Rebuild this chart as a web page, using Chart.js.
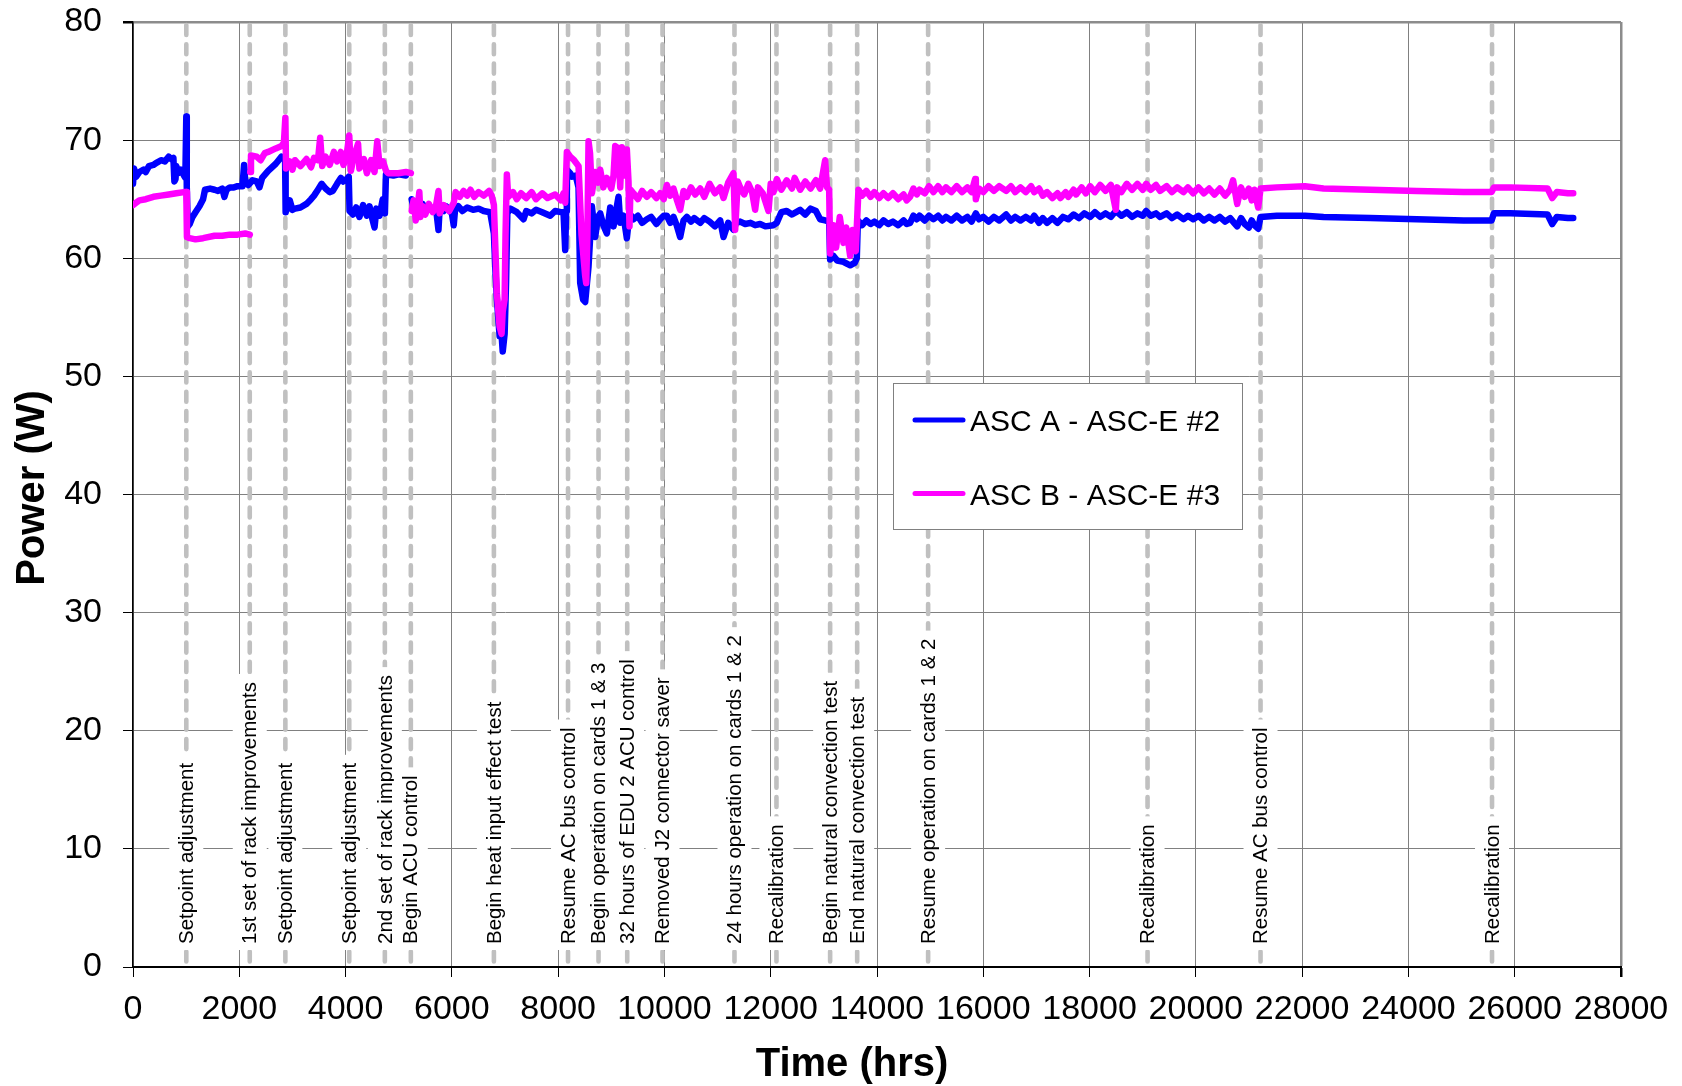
<!DOCTYPE html>
<html>
<head>
<meta charset="utf-8">
<script src="https://cdn.jsdelivr.net/npm/chart.js@4.4.1/dist/chart.umd.min.js"></script>
<style>
  html, body { margin: 0; padding: 0; background: #fff; }
  #wrap { position: relative; width: 1682px; height: 1086px; }
</style>
</head>
<body>
<div id="wrap"><canvas id="powerChart"></canvas></div>
<script>
const seriesLabels = ["ASC A - ASC-E #2", "ASC B - ASC-E #3"];

const hoursA = [
  0, 20, 60, 120, 200, 240, 300, 383, 450, 527, 600, 671, 720, 760, 779, 800, 815, 852, 900, 959,
  985, 1003, 1012, 1031, 1067, 1120, 1176, 1250, 1319, 1355, 1450, 1535, 1600, 1680, 1720, 1760, 1823, 1900, 1968, 2060,
  2090, 2111, 2169, 2250, 2327, 2380, 2430, 2543, 2687, 2795, 2831, 2862, 2872, 2903, 2950, 3000, 3048, 3150, 3264, 3350,
  3407, 3480, 3550, 3623, 3700, 3760, 3840, 3911, 3960, 4019, 4060, 4075, 4140, 4200, 4260, 4330, 4400, 4450, 4500, 4545,
  4580, 4640, 4700, 4740, 4760, 4900, 5000, 5136, 5190,
  5244, 5280, 5320, 5388, 5450, 5500, 5567, 5640, 5700, 5748, 5770, 5850, 5891, 5960, 6000, 6035, 6060, 6120, 6200, 6287,
  6400, 6504, 6600, 6720, 6791, 6820, 6848, 6899, 6935, 6957, 6993, 7020, 7044, 7100, 7222, 7349, 7400, 7500, 7584, 7700,
  7851, 7943, 8050, 8101, 8133, 8150, 8164, 8227, 8258, 8330, 8384, 8415, 8470, 8509, 8572, 8635, 8697, 8750, 8791, 8850,
  8917, 8980, 9042, 9090, 9136, 9168, 9230, 9293, 9343, 9418, 9500, 9580, 9669, 9750, 9850, 9920, 9986, 10046, 10110, 10171,
  10230, 10296, 10360, 10422, 10500, 10560, 10673, 10750, 10850, 10950, 11049, 11112, 11200, 11300, 11350, 11425, 11520, 11620, 11707, 11800,
  11900, 12052, 12115, 12200, 12300, 12400, 12554, 12650, 12750, 12850, 12930, 13024, 13100, 13118, 13181, 13250, 13369, 13450, 13495, 13580,
  13620, 13640, 13720, 13800, 13880, 13950, 14040, 14122, 14210, 14300, 14400, 14500, 14560, 14623, 14686, 14750, 14800, 14900, 14980, 15062,
  15150, 15230, 15300, 15400, 15500, 15600, 15700, 15780, 15859, 15920, 16000, 16100, 16200, 16300, 16430, 16520, 16600, 16700, 16800, 16900,
  16957, 17050, 17120, 17200, 17300, 17396, 17500, 17600, 17700, 17800, 17900, 18011, 18100, 18200, 18300, 18400, 18494, 18600, 18700, 18800,
  18900, 19000, 19065, 19150, 19250, 19328, 19450, 19550, 19650, 19768, 19850, 19950, 20050, 20150, 20250, 20350, 20450, 20550, 20646, 20720,
  20778, 20850, 20920, 20997, 21050, 21100, 21173,
  21217, 21524, 22051, 22402, 23281, 24159, 25037, 25564, 25608, 25916, 26618, 26706, 26794, 27000, 27101
];
const powerA = [
  66.3, 67.6, 66.9, 67.3, 67.5, 67.3, 67.8, 67.9, 68.1, 68.3, 68.2, 68.6, 68.4, 68.5, 66.5, 66.7, 67.8, 67.2, 67.5, 67.0,
  66.8, 72.0, 66.0, 62.7, 62.9, 63.5, 63.9, 64.4, 65.0, 65.8, 65.9, 65.8, 65.7, 65.9, 65.2, 65.8, 66.0, 66.0, 66.1, 66.1,
  67.9, 66.6, 66.2, 66.6, 66.5, 66.0, 66.8, 67.4, 68.0, 68.6, 68.5, 68.3, 63.9, 64.2, 64.9, 64.1, 64.2, 64.3, 64.6, 65.0,
  65.3, 65.8, 66.3, 65.9, 65.6, 65.7, 66.3, 66.8, 66.5, 66.7, 66.9, 64.0, 63.7, 64.3, 63.5, 64.5, 63.6, 64.4, 63.4, 62.6,
  64.2, 63.6, 65.0, 63.8, 67.1, 67.0, 67.1, 67.0, null,
  65.0, 64.2, 64.8, 64.0, 64.6, 63.9, 64.5, 64.0, 64.3, 62.4, 64.2, 64.0, 64.4, 64.0, 63.8, 62.8, 64.1, 64.4, 64.0, 64.3,
  64.1, 64.2, 64.0, 63.9, 62.1, 59.0, 56.5, 53.4, 53.6, 52.1, 53.6, 58.0, 63.8, 64.2, 63.9, 63.3, 64.0, 63.8, 64.1, 63.9,
  63.6, 64.0, 63.9, 63.9, 60.7, 64.0, 67.5, 67.2, 66.9, 67.0, 66.0, 57.9, 56.5, 56.3, 59.3, 64.4, 61.8, 63.5, 63.8, 62.8,
  62.1, 64.3, 62.7, 64.0, 65.2, 63.0, 63.6, 61.7, 63.8, 63.3, 63.6, 63.0, 63.3, 63.5, 62.9, 63.3, 63.6, 63.6, 63.0, 63.5,
  62.8, 61.8, 63.2, 63.5, 63.1, 63.4, 63.0, 63.4, 63.1, 62.7, 63.2, 61.8, 63.0, 62.4, 63.0, 63.1, 62.9, 63.0, 62.8, 62.9,
  62.7, 62.8, 63.0, 63.9, 64.0, 63.7, 64.1, 63.7, 64.2, 64.0, 63.3, 63.2, 63.1, 59.9, 60.2, 59.8, 59.7, 59.5, 59.4, 59.6,
  60.0, 63.2, 62.8, 63.2, 62.9, 63.1, 62.8, 63.2, 62.9, 63.1, 62.8, 63.2, 62.9, 63.0, 63.6, 63.3, 63.6, 63.2, 63.6, 63.3,
  63.6, 63.2, 63.5, 63.2, 63.6, 63.2, 63.5, 63.1, 63.8, 63.3, 63.5, 63.1, 63.5, 63.2, 63.7, 63.2, 63.5, 63.2, 63.5, 63.2,
  63.6, 63.0, 63.4, 63.0, 63.4, 63.0, 63.5, 63.3, 63.7, 63.4, 63.8, 63.5, 63.9, 63.5, 63.8, 63.5, 64.0, 63.6, 63.9, 63.5,
  63.8, 63.6, 64.0, 63.6, 63.8, 63.5, 63.8, 63.4, 63.7, 63.3, 63.6, 63.3, 63.6, 63.2, 63.5, 63.2, 63.5, 63.1, 63.4, 63.0,
  62.7, 63.4, 62.9, 62.6, 63.2, 62.8, 62.5,
  63.5, 63.6, 63.6, 63.5, 63.4, 63.3, 63.2, 63.2, 63.8, 63.8, 63.7, 62.9, 63.5, 63.4, 63.4
];

const hoursB = [
  0, 60, 120, 240, 383, 527, 671, 815, 959, 1003, 1015, 1067, 1176, 1319, 1535, 1680, 1823, 1968, 2111, 2198, 2201,
  2205, 2220, 2327, 2400, 2480, 2543, 2687, 2795, 2840, 2867, 2880, 2950, 3000, 3048, 3150, 3264, 3350, 3407, 3480, 3522,
  3560, 3623, 3700, 3780, 3840, 3911, 3960, 4019, 4069, 4100, 4150, 4235, 4260, 4344, 4400, 4480, 4545, 4596, 4640, 4704,
  4761, 4800, 4991, 5136, 5229, 5236,
  5244, 5280, 5320, 5360, 5388, 5410, 5450, 5500, 5567, 5640, 5700, 5748, 5770, 5850, 5950, 6035, 6071, 6150, 6220, 6287,
  6350, 6420, 6504, 6600, 6700, 6750, 6791, 6848, 6899, 6935, 6957, 6993, 7010, 7035, 7060, 7150, 7222, 7300, 7400, 7500,
  7584, 7700, 7800, 7943, 8050, 8101, 8133, 8164, 8227, 8300, 8384, 8440, 8509, 8528, 8550, 8572, 8600, 8635, 8697, 8750,
  8791, 8850, 8917, 9000, 9042, 9074, 9136, 9168, 9199, 9260, 9293, 9324, 9343, 9360, 9418, 9500, 9580, 9669, 9750, 9850,
  9920, 9986, 10046, 10110, 10171, 10230, 10296, 10360, 10422, 10500, 10580, 10673, 10750, 10850, 10950, 11049, 11112, 11200, 11300, 11331,
  11380, 11425, 11500, 11580, 11650, 11707, 11760, 11850, 11958, 12000, 12052, 12115, 12200, 12300, 12400, 12450, 12554, 12650, 12750, 12850,
  12930, 13024, 13060, 13100, 13118, 13181, 13230, 13300, 13369, 13420, 13495, 13540, 13600,
  13651, 13720, 13800, 13880, 13950, 14040, 14122, 14210, 14300, 14400, 14500, 14560, 14623, 14686, 14750, 14800, 14900, 14980, 15062, 15150,
  15230, 15300, 15400, 15500, 15600, 15700, 15780, 15846, 15860, 15920, 16000, 16100, 16200, 16300, 16430, 16520, 16600, 16700, 16800, 16900,
  16957, 17050, 17120, 17200, 17300, 17396, 17450, 17550, 17600, 17700, 17747, 17850, 17930, 18011, 18100, 18200, 18300, 18400, 18494, 18520,
  18600, 18700, 18800, 18900, 19000, 19065, 19150, 19250, 19328, 19450, 19550, 19650, 19768, 19850, 19950, 20050, 20150, 20250, 20350, 20450,
  20550, 20646, 20700, 20778, 20850, 20920, 20997, 21050, 21100, 21173,
  21217, 21524, 22051, 22402, 23281, 24159, 25037, 25564, 25608, 25916, 26618, 26706, 26794, 27000, 27101
];
const powerB = [
  64.5, 64.7, 64.9, 65.0, 65.2, 65.3, 65.4, 65.5, 65.6, 65.6, 61.8, 61.7, 61.6, 61.7, 61.9, 61.9, 62.0, 62.0, 62.1, 62.0, null,
  67.3, 68.7, 68.6, 68.3, 68.9, 69.0, 69.3, 69.5, 69.8, 71.9, 67.6, 68.2, 67.5, 68.3, 67.8, 68.4, 67.7, 68.5, 68.3, 70.2,
  67.8, 68.6, 67.9, 69.0, 68.2, 69.0, 67.9, 68.7, 70.4, 67.4, 68.5, 69.7, 67.6, 68.4, 67.2, 68.3, 67.3, 69.9, 67.8, 68.2,
  67.4, 67.2, 67.2, 67.3, 67.2, null,
  64.0, 64.9, 63.2, 64.5, 65.6, 63.5, 64.4, 63.7, 64.6, 63.9, 64.4, 65.7, 63.8, 64.5, 64.0, 64.7, 65.6, 65.2, 65.7, 65.3,
  65.8, 65.2, 65.6, 65.3, 65.7, 65.3, 64.5, 57.0, 54.2, 53.6, 55.5, 56.5, 62.0, 67.1, 65.2, 65.6, 65.0, 65.5, 65.1, 65.6,
  65.0, 65.5, 65.1, 65.4, 64.9, 65.5, 64.7, 69.0, 68.6, 68.3, 67.8, 62.0, 58.5, 57.9, 62.0, 69.9, 68.9, 65.5, 67.3, 66.4,
  67.5, 66.0, 66.8, 65.9, 67.0, 69.5, 69.3, 66.0, 69.4, 67.0, 69.2, 66.5, 62.7, 65.8, 65.5, 65.0, 65.7, 65.2, 65.6, 65.1,
  65.5, 65.0, 66.2, 65.3, 65.9, 65.0, 64.1, 65.7, 65.2, 66.0, 65.4, 65.9, 65.2, 66.3, 65.5, 66.0, 65.1, 66.4, 67.2, 62.4,
  66.5, 66.0, 65.4, 66.3, 65.6, 64.1, 66.0, 65.5, 64.0, 66.3, 65.6, 66.7, 65.8, 66.6, 65.9, 66.8, 65.8, 66.5, 65.9, 66.6,
  65.9, 68.3, 66.0, 65.8, 60.4, 62.8, 60.9, 63.5, 61.3, 62.6, 60.2, 62.4, 60.6,
  65.8, 65.3, 65.7, 65.2, 65.6, 65.1, 65.5, 65.1, 65.5, 65.0, 65.4, 64.9, 65.2, 65.9, 65.4, 65.8, 65.5, 66.1, 65.6, 66.1,
  65.6, 66.0, 65.6, 66.1, 65.6, 66.0, 65.6, 66.7, 65.0, 65.9, 65.6, 66.1, 65.7, 66.1, 65.7, 66.1, 65.6, 66.0, 65.6, 66.1,
  65.6, 65.9, 65.3, 65.6, 65.1, 65.5, 65.1, 65.6, 65.2, 65.8, 65.4, 66.0, 65.5, 66.1, 65.6, 66.2, 65.7, 66.2, 64.1, 66.0,
  65.6, 66.3, 65.8, 66.3, 65.8, 66.3, 65.8, 66.2, 65.7, 66.1, 65.6, 66.0, 65.6, 66.0, 65.5, 66.0, 65.5, 65.9, 65.4, 65.9,
  65.3, 65.8, 66.6, 64.6, 66.0, 65.2, 65.9, 64.9, 65.8, 64.3,
  65.9, 66.0, 66.1, 65.9, 65.8, 65.7, 65.6, 65.6, 66.0, 66.0, 65.9, 65.1, 65.6, 65.5, 65.5
];

const eventHours = [1003, 2197, 2867, 4069, 4739, 5228, 6791, 8186, 8760, 9300, 9964, 11318, 12108, 13118, 13627, 14962, 19091, 21217, 25573];
const eventLabels = [
  "Setpoint adjustment",
  "1st set of rack improvements",
  "Setpoint adjustment",
  "Setpoint adjustment",
  "2nd set of rack improvements",
  "Begin ACU control",
  "Begin heat input effect test",
  "Resume AC bus control",
  "Begin operation on cards 1 & 3",
  "32 hours of EDU 2 ACU control",
  "Removed J2 connector saver",
  "24 hours operation on cards 1 & 2",
  "Recalibration",
  "Begin natural convection test",
  "End natural convection test",
  "Resume operation on cards 1 & 2",
  "Recalibration",
  "Resume AC bus control",
  "Recalibration"
];

const FONT = '"Liberation Sans", Arial, Helvetica, sans-serif';
Chart.defaults.font.family = FONT;
Chart.defaults.color = "#000";

const toPoints = (hours, power) => hours.map((h, i) => ({ x: h, y: power[i] }));

// dashed event markers + white label boxes, drawn under the data lines
const eventMarkers = {
  id: "eventMarkers",
  beforeDatasetsDraw(chart) {
    const { ctx, chartArea } = chart;
    const x = chart.scales.x;
    ctx.save();
    ctx.strokeStyle = "#c0c0c0";
    ctx.lineWidth = 4.6;
    ctx.lineCap = "round";
    ctx.setLineDash([10, 9.3]);
    eventHours.forEach((h) => {
      const px = x.getPixelForValue(h);
      ctx.beginPath();
      ctx.moveTo(px, chartArea.top + 3);
      ctx.lineTo(px, chartArea.bottom - 2);
      ctx.stroke();
    });
    ctx.setLineDash([]);
    ctx.font = "20.5px " + FONT;
    ctx.textBaseline = "middle";
    eventLabels.forEach((label, i) => {
      const px = x.getPixelForValue(eventHours[i]);
      const w = ctx.measureText(label).width;
      ctx.save();
      ctx.translate(px, chartArea.bottom - 23);
      ctx.rotate(-Math.PI / 2);
      ctx.fillStyle = "#fff";
      ctx.fillRect(-6, -17, w + 14, 34);
      ctx.fillStyle = "#000";
      ctx.fillText(label, 0, 1);
      ctx.restore();
    });
    ctx.restore();
  },
  afterDraw(chart) {
    const { ctx } = chart;
    ctx.save();
    // axis titles
    ctx.fillStyle = "#000";
    ctx.font = "bold 40px " + FONT;
    ctx.textAlign = "center";
    ctx.textBaseline = "alphabetic";
    ctx.fillText("Time (hrs)", 852, 1076);
    ctx.save();
    ctx.translate(44, 488);
    ctx.rotate(-Math.PI / 2);
    ctx.fillText("Power (W)", 0, 0);
    ctx.restore();

    // legend box
    const lx = 893.5, ly = 383.5, lw = 349, lh = 146;
    ctx.fillStyle = "#fff";
    ctx.fillRect(lx, ly, lw, lh);
    ctx.strokeStyle = "#808080";
    ctx.lineWidth = 1;
    ctx.strokeRect(lx, ly, lw, lh);
    ctx.font = "30px " + FONT;
    ctx.textAlign = "left";
    chart.data.datasets.forEach((ds, i) => {
      const y = 420 + i * 73.5;
      ctx.strokeStyle = ds.borderColor;
      ctx.lineWidth = 5;
      ctx.lineCap = "round";
      ctx.beginPath();
      ctx.moveTo(915, y);
      ctx.lineTo(963, y);
      ctx.stroke();
      ctx.fillStyle = "#000";
      ctx.fillText(ds.label, 970, y + 11);
    });
    ctx.restore();
  }
};

const ctx = document.getElementById("powerChart");
const powerChart = new Chart(ctx, {
  type: "line",
  data: {
    datasets: [
      {
        label: seriesLabels[0],
        data: toPoints(hoursA, powerA),
        borderColor: "#0000ff",
        borderWidth: 6.5,
        order: 2
      },
      {
        label: seriesLabels[1],
        data: toPoints(hoursB, powerB),
        borderColor: "#ff00ff",
        borderWidth: 6.5,
        order: 1
      }
    ]
  },
  options: {
    responsive: true,
    maintainAspectRatio: false,
    devicePixelRatio: 1,
    animation: false,
    spanGaps: false,
    elements: {
      point: { radius: 0 },
      line: { tension: 0, borderJoinStyle: "round", borderCapStyle: "round" }
    },
    layout: { padding: { top: 22, right: 61, left: 0, bottom: 0 } },
    plugins: {
      legend: { display: false },
      tooltip: { enabled: false }
    },
    scales: {
      x: {
        type: "linear",
        min: 0,
        max: 28000,
        ticks: {
          stepSize: 2000,
          autoSkip: false,
          maxRotation: 0,
          padding: 12,
          font: { size: 34 },
          color: "#000",
          callback: (v) => String(v)
        },
        grid: {
          color: (c) => (c.tick && c.tick.value === 28000 ? "#8c8c8c" : "#808080"),
          lineWidth: (c) => (c.tick && c.tick.value === 28000 ? 2.5 : 1),
          tickLength: 10,
          tickColor: "#000"
        },
        border: { color: "#000", width: 2 },
        afterFit: (s) => { s.height = 119; }
      },
      y: {
        min: 0,
        max: 80,
        ticks: {
          stepSize: 10,
          padding: 21,
          font: { size: 34 },
          color: "#000"
        },
        grid: {
          color: (c) => (c.tick && c.tick.value === 80 ? "#8c8c8c" : "#808080"),
          lineWidth: (c) => (c.tick && c.tick.value === 80 ? 2.5 : 1),
          tickLength: 10,
          tickColor: "#000"
        },
        border: { color: "#000", width: 1.5 },
        afterFit: (s) => { s.width = 133; s.paddingTop = 0; s.paddingBottom = 0; }
      }
    }
  },
  plugins: [eventMarkers]
});
</script>
</body>
</html>
